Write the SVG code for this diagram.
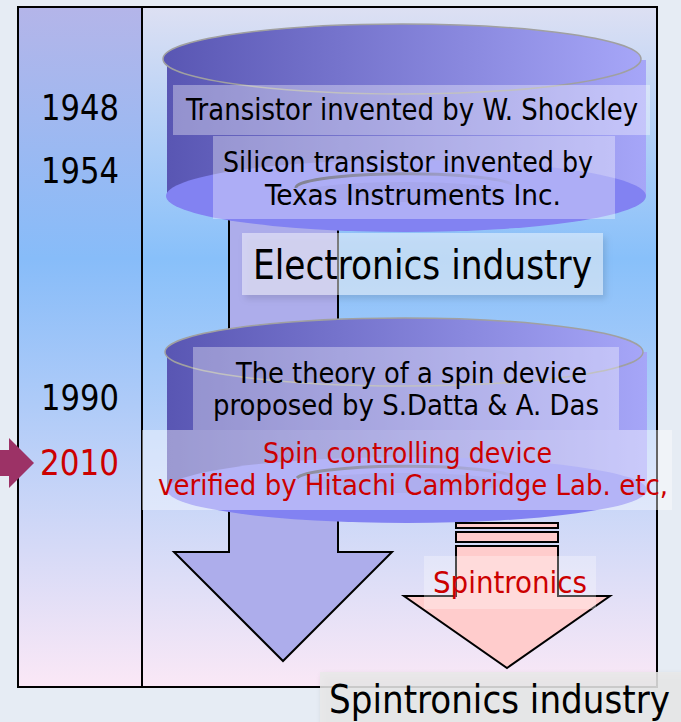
<svg xmlns="http://www.w3.org/2000/svg" width="681" height="722" viewBox="0 0 681 722">
<defs>
<style>
.t{font-family:"DejaVu Sans Condensed","DejaVu Sans",sans-serif;font-stretch:condensed;fill:#000}
.red{fill:#cc0000}
.box{fill:#fff;fill-opacity:0.35}
.ln{stroke:#000;stroke-width:2;fill:none}
.arc{fill:none;stroke:url(#gA);stroke-width:3}
</style>
<linearGradient id="gL" x1="0" y1="7" x2="0" y2="687" gradientUnits="userSpaceOnUse">
<stop offset="0" stop-color="#b4b5e9"/><stop offset="0.37" stop-color="#87bcf9"/><stop offset="1" stop-color="#fbe8f6"/>
</linearGradient>
<linearGradient id="gR" x1="0" y1="7" x2="0" y2="687" gradientUnits="userSpaceOnUse">
<stop offset="0" stop-color="#dde0f3"/><stop offset="0.37" stop-color="#88c0fa"/><stop offset="1" stop-color="#fae8f6"/>
</linearGradient>
<linearGradient id="gC" x1="0" y1="0" x2="1" y2="0">
<stop offset="0" stop-color="#5956b3"/><stop offset="1" stop-color="#a6a6f8"/>
</linearGradient>
<linearGradient id="gA" x1="0" y1="0" x2="1" y2="0">
<stop offset="0" stop-color="#303030" stop-opacity="0.8"/><stop offset="0.6" stop-color="#404040" stop-opacity="0.5"/><stop offset="1" stop-color="#404040" stop-opacity="0.1"/>
</linearGradient>
<filter id="sh" x="-10%" y="-20%" width="120%" height="150%">
<feDropShadow dx="3" dy="4" stdDeviation="3" flood-color="#000" flood-opacity="0.25"/>
</filter>
</defs>
<rect width="681" height="722" fill="#e6ecf4"/>
<g id="panels">
<rect x="18" y="7" width="124" height="680" fill="url(#gL)"/>
<rect x="142" y="7" width="515" height="680" fill="url(#gR)"/>
</g>
<g id="connectors">
<polygon id="bigArrow" points="229,190 338,190 338,552 392,552 283,661 174,552 229,552" fill="#adadeb" stroke="#000" stroke-width="2"/>
</g>
<g id="cyl1">
<rect x="167" y="60" width="479" height="136" fill="url(#gC)"/>
<ellipse cx="406" cy="196" rx="240" ry="36" fill="#8282f2"/>
<ellipse cx="404" cy="192" rx="100" ry="10" fill="#303060" fill-opacity="0.1"/>
<path class="arc" d="M296,188 A110,14 0 0 1 512,184"/>
<ellipse cx="402" cy="59" rx="239" ry="35" fill="url(#gC)" stroke="#a0a0a0" stroke-width="1.5"/>
</g>
<g id="cyl2">
<rect x="167" y="352" width="480" height="138" fill="url(#gC)"/>
<ellipse cx="407" cy="490" rx="240" ry="33" fill="#8282f2"/>
<ellipse cx="405" cy="483" rx="100" ry="10" fill="#303060" fill-opacity="0.1"/>
<path class="arc" d="M297,478 A110,13 0 0 1 513,476"/>
<ellipse cx="404" cy="352" rx="239" ry="34" fill="url(#gC)" stroke="#a0a0a0" stroke-width="1.5"/>
</g>
<g id="frame">
<rect x="18" y="7" width="639" height="680" class="ln"/>
<line x1="142" y1="7" x2="142" y2="687" class="ln"/>
</g>
<g id="years">
<text class="t" x="41" y="120" font-size="36" textLength="78" lengthAdjust="spacingAndGlyphs">1948</text>
<text class="t" x="41" y="183" font-size="36" textLength="78" lengthAdjust="spacingAndGlyphs">1954</text>
<text class="t" x="41" y="410" font-size="36" textLength="78" lengthAdjust="spacingAndGlyphs">1990</text>
<text class="t red" x="40" y="475" font-size="36" textLength="79" lengthAdjust="spacingAndGlyphs">2010</text>
</g>
<g id="n1948">
<rect class="box" x="173" y="85" width="477" height="50"/>
<text class="t" x="186" y="120" font-size="30" textLength="452" lengthAdjust="spacingAndGlyphs">Transistor invented by W. Shockley</text>
</g>
<g id="n1954">
<rect class="box" x="213" y="136" width="402" height="83"/>
<text class="t" x="223" y="172" font-size="29" textLength="370" lengthAdjust="spacingAndGlyphs">Silicon transistor invented by</text>
<text class="t" x="265" y="205" font-size="29" textLength="296" lengthAdjust="spacingAndGlyphs">Texas Instruments Inc.</text>
</g>
<g id="electronics">
<rect x="242" y="233" width="361" height="62" fill="#fff" fill-opacity="0.45" filter="url(#sh)"/>
<text class="t" x="253" y="279" font-size="40" textLength="339" lengthAdjust="spacingAndGlyphs">Electronics industry</text>
</g>
<g id="n1990">
<rect class="box" x="193" y="347" width="426" height="83"/>
<text class="t" x="236" y="383" font-size="29" textLength="351" lengthAdjust="spacingAndGlyphs">The theory of a spin device</text>
<text class="t" x="213" y="415" font-size="29" textLength="386" lengthAdjust="spacingAndGlyphs">proposed by S.Datta &amp; A. Das</text>
</g>
<g id="n2010">
<rect x="142" y="430" width="530" height="80" fill="#fff" fill-opacity="0.4"/>
<text class="t red" x="263" y="463" font-size="29" textLength="289" lengthAdjust="spacingAndGlyphs">Spin controlling device</text>
<text class="t red" x="158" y="495" font-size="29" textLength="510" lengthAdjust="spacingAndGlyphs">verified by Hitachi Cambridge Lab. etc,</text>
</g>
<g id="spintronics">
<rect x="456" y="523" width="102" height="5" fill="#ffcccc" stroke="#000" stroke-width="2"/>
<rect x="456" y="532" width="102" height="10" fill="#ffcccc" stroke="#000" stroke-width="2"/>
<polygon points="456,546 558,546 558,596 610,596 507,668 404,596 456,596" fill="#ffcccc" stroke="#000" stroke-width="2"/>
<rect x="424" y="556" width="172" height="53" fill="#fff" fill-opacity="0.3"/>
<text class="t red" x="433" y="593" font-size="30" textLength="154" lengthAdjust="spacingAndGlyphs">Spintronics</text>
</g>
<g id="spinIndustry">
<rect x="320" y="672" width="370" height="60" fill="#e9e9e9" fill-opacity="0.85" filter="url(#sh)"/>
<text class="t" x="329" y="713" font-size="39" textLength="341" lengthAdjust="spacingAndGlyphs">Spintronics industry</text>
</g>
<g id="marker2010">
<polygon points="0,450 9,450 9,438 34,463 9,488 9,476 0,476" fill="#9c3266"/>
</g>
</svg>
